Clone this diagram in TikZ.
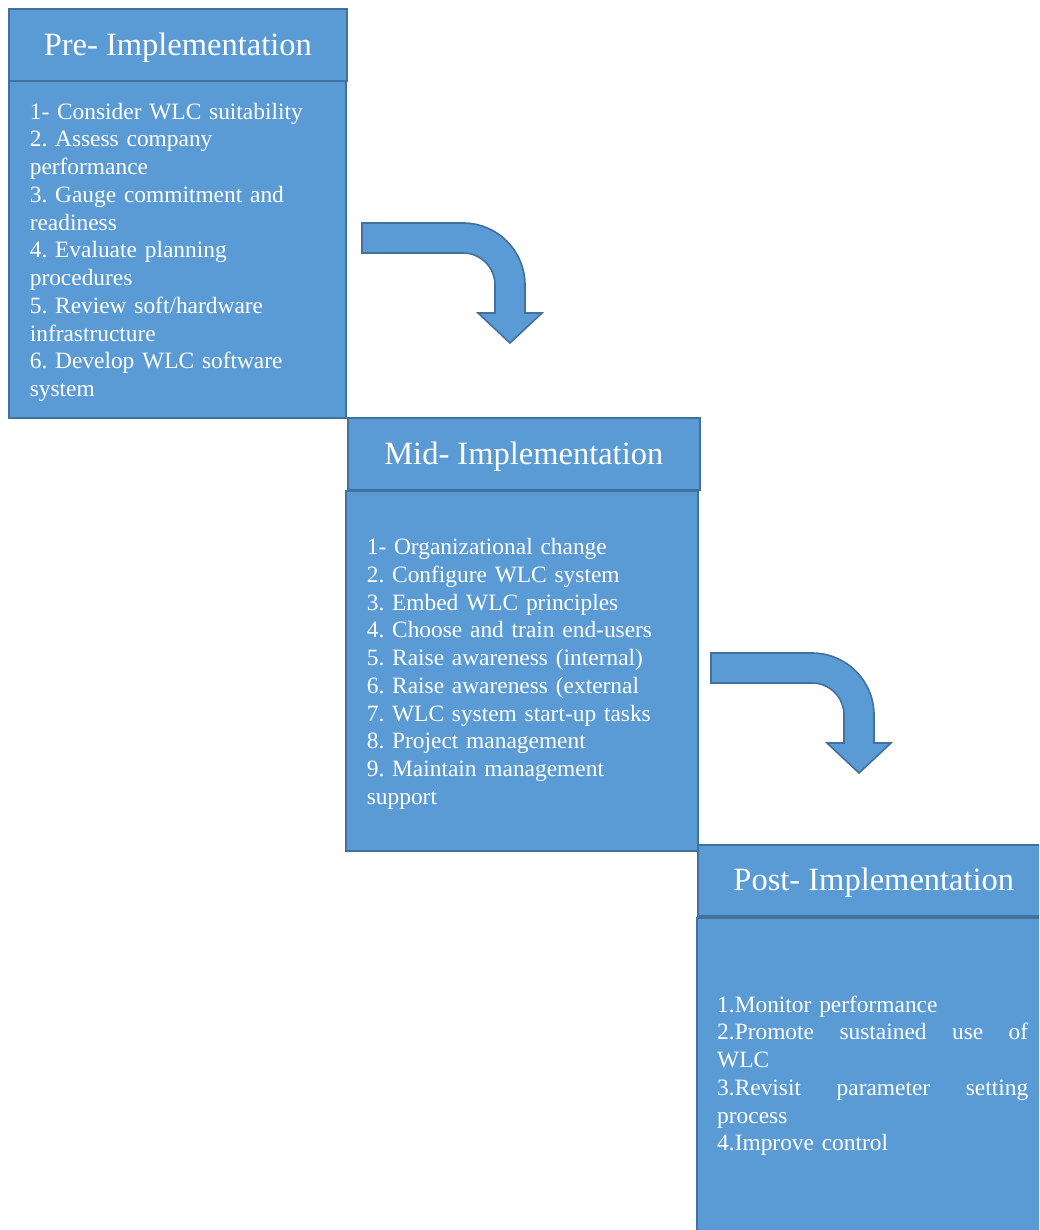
\documentclass[tikz,border=0pt]{standalone}
\usepackage{fontspec}
\setmainfont{Liberation Serif}
\frenchspacing
\definecolor{boxfill}{HTML}{5B9BD5}
\definecolor{boxline}{HTML}{41719C}
\tikzset{
  panel/.style={draw=boxline, fill=boxfill, line width=1.6pt, rectangle, anchor=north west, inner sep=0pt},
  headbox/.style={panel, text=white, text depth=1.5pt, font=\fontsize{32.5}{38}\selectfont},
  bodytext/.style={text=white, inner sep=0pt, align=left, font=\fontsize{23.4}{27.75}\selectfont},
  bentarrow/.style={draw=boxline, fill=boxfill, line width=1.6pt, line join=miter}
}
% a line spread out over the full text width
\newcommand\fullline[1]{\leavevmode\hbox to 311pt{#1}}
\begin{document}
\begin{tikzpicture}[x=1pt, y=-1pt]
\useasboundingbox (0,0) rectangle (1039,1230);
\clip (0,0) rectangle (1039,1230);

% Pre-implementation stage
\node[headbox, minimum width=338pt, minimum height=72pt] (preH) at (8,8) {Pre- Implementation};
\node[panel, minimum width=337pt, minimum height=337pt] (preB) at (8,80) {};
\node[bodytext, text width=295pt, yshift=-3pt] (preT) at (preB.center)
  {1- Consider WLC suitability\\
   2. Assess company\\ performance\\
   3. Gauge commitment and\\ readiness\\
   4. Evaluate planning\\ procedures\\
   5. Review soft/hardware\\ infrastructure\\
   6. Develop WLC software\\ system};

% Mid-implementation stage
\node[panel, minimum width=352pt, minimum height=360pt] (midB) at (345,490) {};
\node[bodytext, text width=310pt, yshift=-3pt] (midT) at (midB.center)
  {1- Organizational change\\
   2. Configure WLC system\\
   3. Embed WLC principles\\
   4. Choose and train end-users\\
   5. Raise awareness (internal)\\
   6. Raise awareness (external\\
   7. WLC system start-up tasks\\
   8. Project management\\
   9. Maintain management\\ support};
\node[headbox, minimum width=352pt, minimum height=72pt] (midH) at (347,417) {Mid- Implementation};

% Post-implementation stage
\node[headbox, minimum width=352pt, minimum height=71pt] (postH) at (697,844) {Post- Implementation};
\node[panel, minimum width=380pt, minimum height=316pt] (postB) at (696,917) {};
\node[bodytext, text width=311pt, anchor=west] (postT) at ([xshift=21pt]postB.west)
  {1.Monitor performance\\
   \fullline{2.Promote\hfill sustained\hfill use\hfill of}\\ WLC\\
   \fullline{3.Revisit\hfill parameter\hfill setting}\\ process\\
   4.Improve control};

% Bent arrows leading from one stage to the next
\foreach \dx/\dy in {0/0, 349/430}{
  \begin{scope}[shift={(\dx,\dy)}]
    \draw[bentarrow] (362,223) -- (463,223)
      .. controls (497.2,223) and (525,250.8) .. (525,285)
      -- (525,313) -- (542,313) -- (510,343) -- (478,313) -- (495,313) -- (495,285)
      .. controls (495,267.3) and (480.7,253) .. (463,253)
      -- (362,253) -- cycle;
  \end{scope}
}
\end{tikzpicture}
\end{document}
